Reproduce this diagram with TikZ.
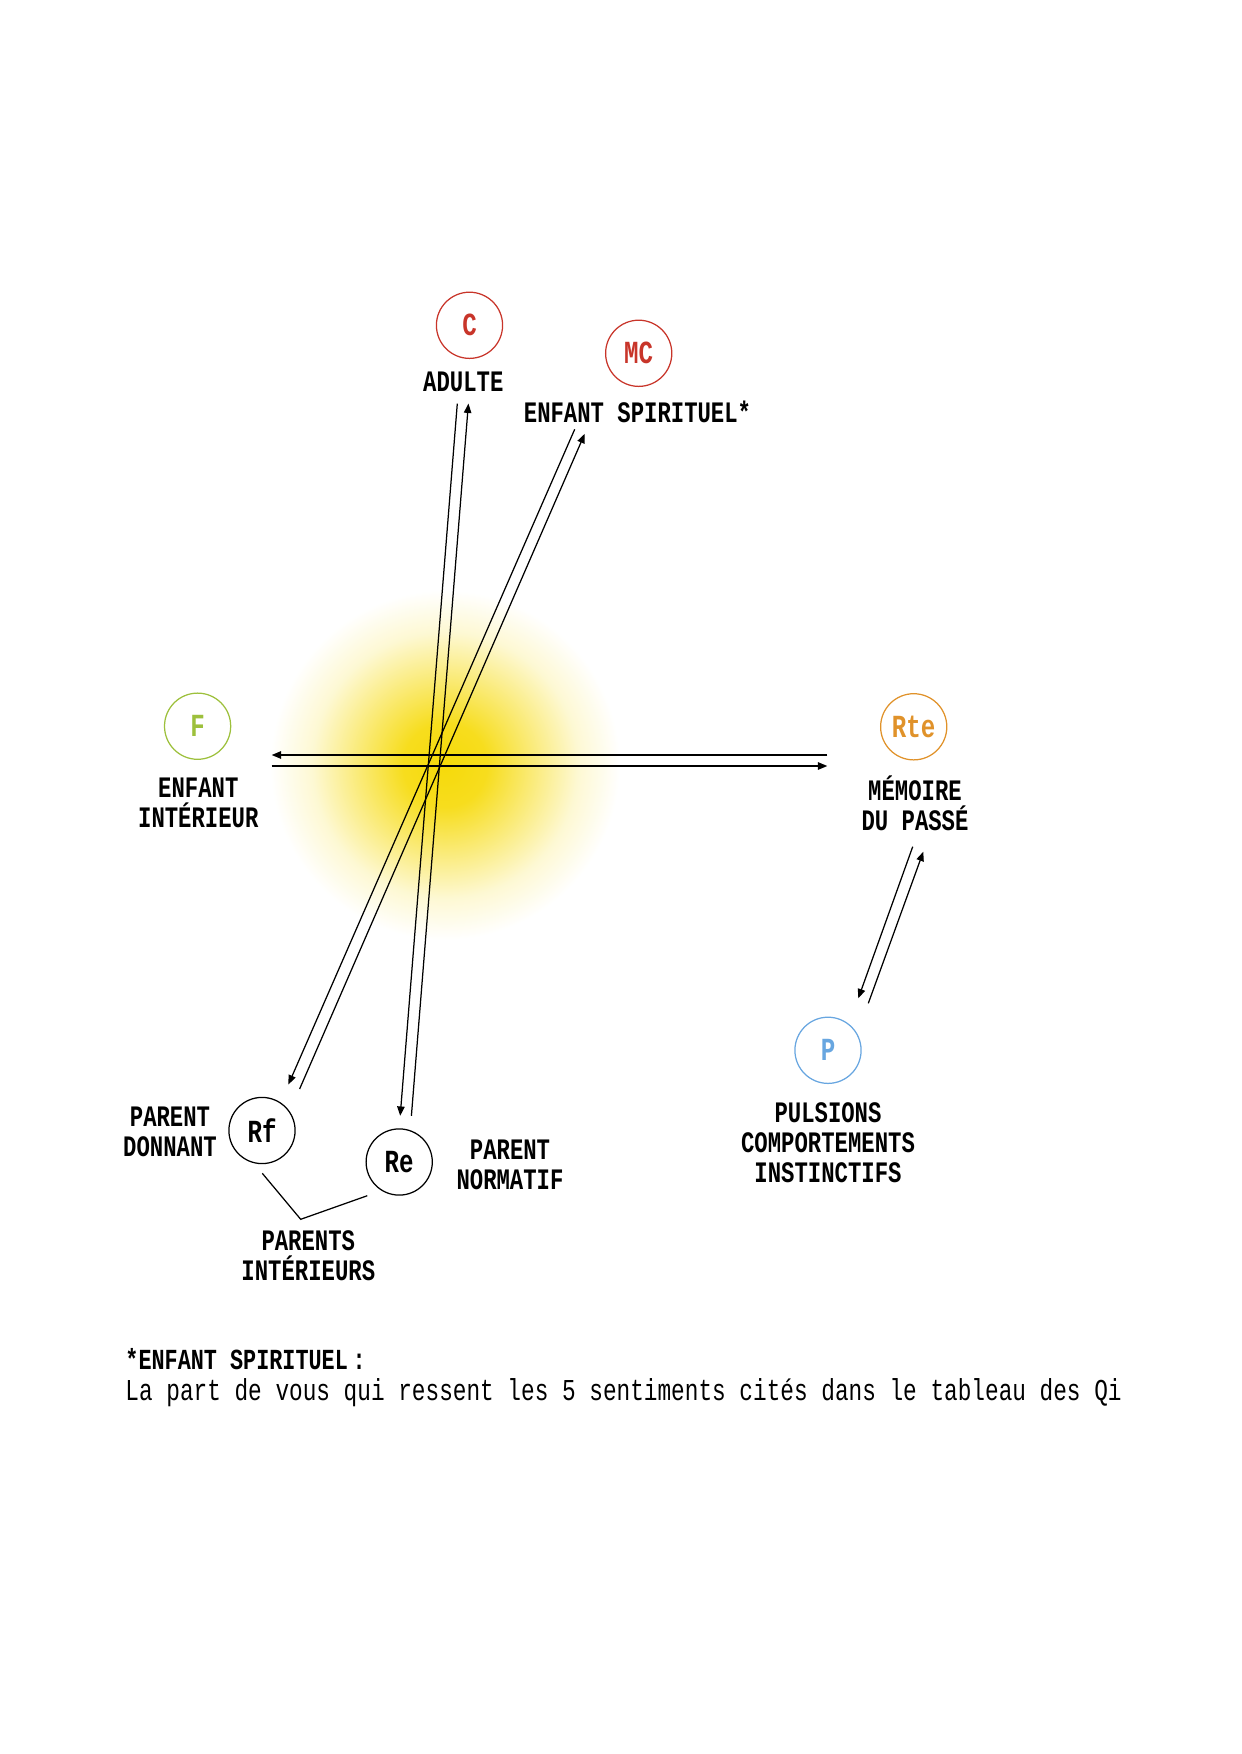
\documentclass[tikz,border=0pt]{standalone}
\usepackage{fontspec}
\usetikzlibrary{arrows.meta}
\newfontfamily\lblfont{Liberation Mono}[FakeStretch=0.75]
\definecolor{redC}{HTML}{C8352A}
\definecolor{greenF}{HTML}{9DC03C}
\definecolor{orangeR}{HTML}{E0922A}
\definecolor{blueP}{HTML}{68A6E0}
\definecolor{glow}{HTML}{F6DA0A}
\pgfdeclareradialshading{sunglow}{\pgfpointorigin}{color(0bp)=(glow); color(6bp)=(glow!92!white); color(12.5bp)=(glow!55!white); color(19bp)=(glow!18!white); color(25bp)=(white); color(50bp)=(white)}
\tikzset{
  persona/.style={draw, circle, minimum size=1.12cm, inner sep=0pt, line width=0.6pt,
    font=\lblfont\bfseries\fontsize{15.5}{16}\selectfont},
  role/.style={align=center, inner sep=0pt, font=\lblfont\bfseries\fontsize{14.3}{14.4}\selectfont},
  flow/.style={line width=0.6pt, -{Triangle[length=4.5pt,width=3.6pt]}},
}
\begin{document}
\begin{tikzpicture}[x=0.016922cm, y=-0.016922cm]
  \useasboundingbox (0,0) rectangle (1241,1754);
  \shade[shading=sunglow] (445,765) circle (2.96cm);

  \node[persona, draw=redC, text=redC] (C) at (469.5,325.3) {C};
  \node[persona, draw=redC, text=redC] (MC) at (638.7,353.3) {MC};
  \node[persona, draw=greenF, text=greenF] (F) at (197.6,726.2) {F};
  \node[persona, draw=orangeR, text=orangeR] (Rte) at (913.7,726.8) {Rte};
  \node[persona, draw=blueP, text=blueP] (P) at (828,1050.3) {P};
  \node[persona] (Rf) at (262,1130.5) {Rf};
  \node[persona] (Re) at (399.2,1162) {Re};

  \node[role] (lC) at (463.3,381.7) {ADULTE};
  \node[role] (lMC) at (637.5,411.5) {ENFANT SPIRITUEL*};
  \node[role] (lF) at (198.3,803.3) {ENFANT\\INTÉRIEUR};
  \node[role] (lRte) at (915,803.3) {MÉMOIRE\\DU PASSÉ};
  \node[role] (lP) at (828,1142.5) {PULSIONS\\COMPORTEMENTS\\INSTINCTIFS};
  \node[role] (lRf) at (170,1131.7) {PARENT\\DONNANT};
  \node[role] (lRe) at (510,1165) {PARENT\\NORMATIF};
  \node[role] (lPar) at (308.3,1255.8) {PARENTS\\INTÉRIEURS};

  % arrow ends
  \coordinate (h1) at (827.3,755);
  \coordinate (h2) at (271.7,755);
  \coordinate (h3) at (271.7,766);
  \coordinate (h4) at (827.3,766);
  \coordinate (a1) at (457.3,403.6);
  \coordinate (a2) at (400.2,1115.8);
  \coordinate (a3) at (411.4,1115.8);
  \coordinate (a4) at (468.4,403.6);
  \coordinate (s1) at (574.7,429.3);
  \coordinate (s2) at (288.4,1084.5);
  \coordinate (s3) at (299.6,1089);
  \coordinate (s4) at (584.7,433.8);
  \coordinate (m1) at (912.7,846.7);
  \coordinate (m2) at (858.3,998.3);
  \coordinate (m3) at (868.3,1003.3);
  \coordinate (m4) at (923.3,851.7);

  \draw[flow] (h1)--(h2);
  \draw[flow] (h3)--(h4);
  \draw[flow] (a1)--(a2);
  \draw[flow] (a3)--(a4);
  \draw[flow] (s1)--(s2);
  \draw[flow] (s3)--(s4);
  \draw[flow] (m1)--(m2);
  \draw[flow] (m3)--(m4);

  \coordinate (b1) at (262.3,1173.3);
  \coordinate (b2) at (300.7,1219.3);
  \coordinate (b3) at (367.3,1195.7);
  \draw[line width=0.6pt] (b1)--(b2)--(b3);

  \node[anchor=west, inner sep=0pt, font=\lblfont\bfseries\fontsize{14}{14}\selectfont] (nTitle) at (125,1359) {*ENFANT SPIRITUEL\,:};
  \node[anchor=west, inner sep=0pt, font=\lblfont\fontsize{14.6}{14.6}\selectfont] (nText) at (125,1393) {La part de vous qui ressent les 5 sentiments cités dans le tableau des Qi};
\end{tikzpicture}
\end{document}
